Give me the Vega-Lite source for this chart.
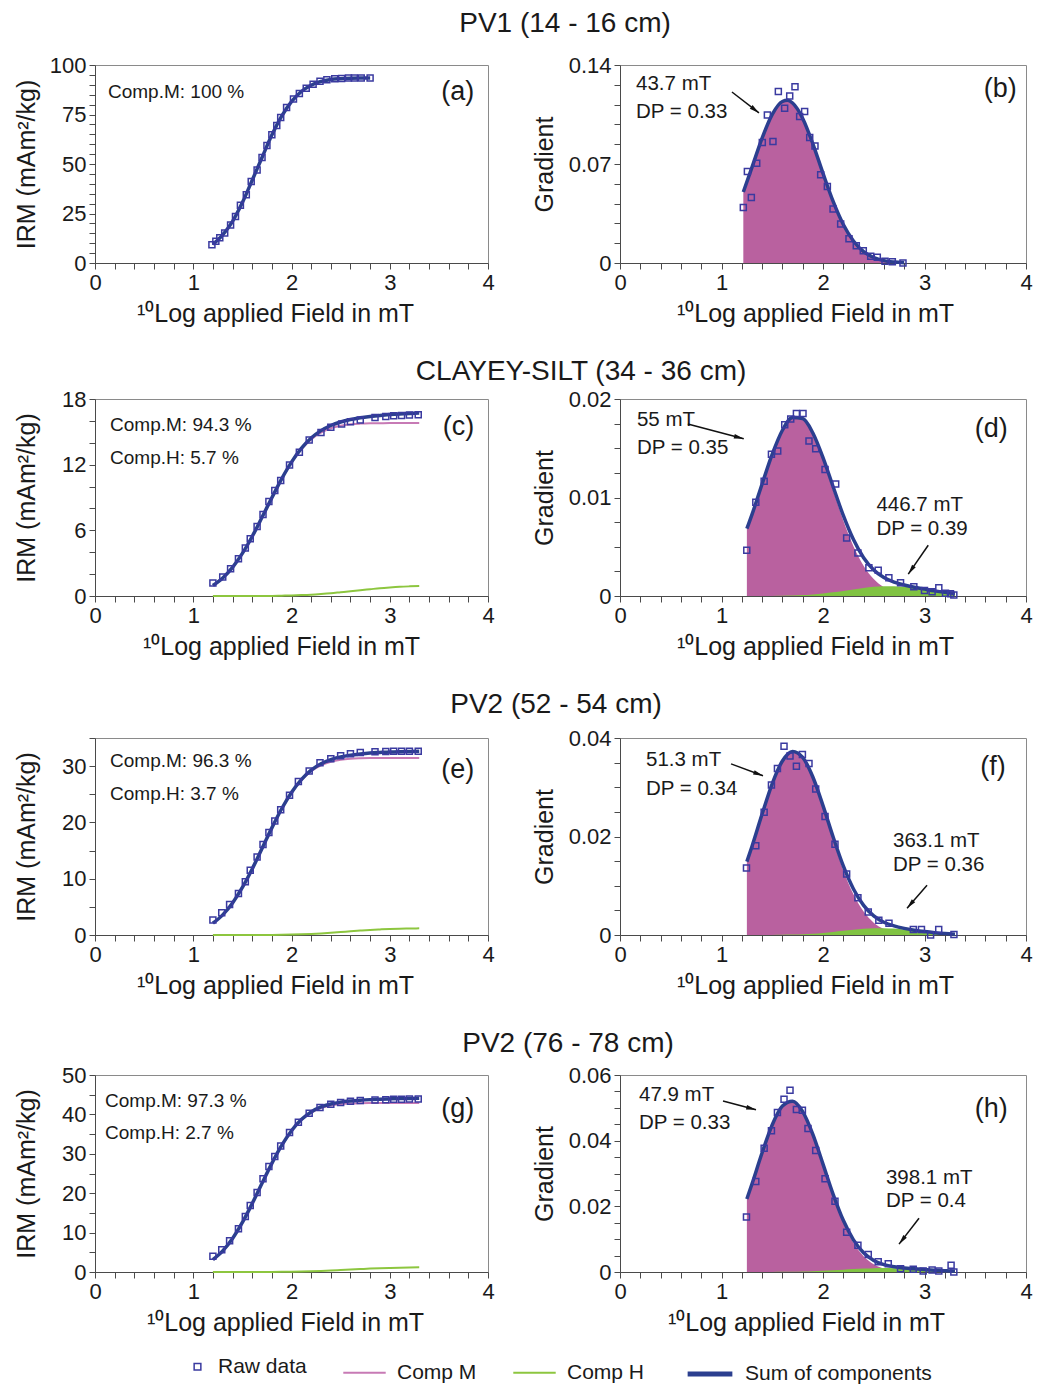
{
"$schema": "https://vega.github.io/schema/vega-lite/v6.json",
"padding": {"left": 13, "top": 9, "right": 4, "bottom": 4},
"config": {
 "font": "Liberation Sans",
 "view": {"stroke": "#8a8a8a", "strokeWidth": 1},
 "axis": {"labelFont": "Liberation Sans", "labelFontSize": 22, "labelColor": "#1a1a1a", "titleFont": "Liberation Sans", "titleFontSize": 25, "titleFontWeight": "normal", "titleColor": "#1a1a1a", "domainColor": "#4a4a4a", "tickColor": "#4a4a4a", "tickSize": 6, "grid": false, "labelPadding": 3, "labelOverlap": false},
 "axisX": {"labelFlush": false, "titlePadding": 8},
 "axisY": {"titleBaseline": "middle"},
 "text": {"font": "Liberation Sans", "color": "#1a1a1a"},
 "title": {"font": "Liberation Sans", "fontSize": 28, "fontWeight": "normal", "color": "#1a1a1a"}
},
"datasets": {
 "a_fit": [{"x":1.2,"S":9.4},{"x":1.3,"S":14.2},{"x":1.4,"S":21.0},{"x":1.5,"S":30.5},{"x":1.6,"S":41.8},{"x":1.7,"S":53.3},{"x":1.8,"S":64.6},{"x":1.9,"S":74.2},{"x":2.0,"S":81.5},{"x":2.1,"S":86.6},{"x":2.2,"S":89.8},{"x":2.3,"S":91.7},{"x":2.4,"S":92.7},{"x":2.5,"S":93.1},{"x":2.6,"S":93.3},{"x":2.7,"S":93.4},{"x":2.8,"S":93.4}],
 "a_raw": [{"x":1.19,"y":9.2},{"x":1.23,"y":11.0},{"x":1.27,"y":12.8},{"x":1.32,"y":15.2},{"x":1.38,"y":19.2},{"x":1.43,"y":23.5},{"x":1.48,"y":29.2},{"x":1.54,"y":34.5},{"x":1.59,"y":41.2},{"x":1.65,"y":47.0},{"x":1.70,"y":53.3},{"x":1.75,"y":59.4},{"x":1.80,"y":64.8},{"x":1.85,"y":69.5},{"x":1.89,"y":73.5},{"x":1.95,"y":78.5},{"x":2.02,"y":82.8},{"x":2.08,"y":85.6},{"x":2.15,"y":88.2},{"x":2.22,"y":90.3},{"x":2.29,"y":91.8},{"x":2.36,"y":92.5},{"x":2.44,"y":93.0},{"x":2.51,"y":93.2},{"x":2.58,"y":93.4},{"x":2.64,"y":93.4},{"x":2.71,"y":93.4},{"x":2.80,"y":93.4}],
 "b_fit": [{"x":1.215,"S":0.0502},{"x":1.3,"S":0.0676},{"x":1.4,"S":0.0883},{"x":1.5,"S":0.1051},{"x":1.6,"S":0.1142},{"x":1.65,"S":0.1150},{"x":1.7,"S":0.1131},{"x":1.8,"S":0.1022},{"x":1.9,"S":0.0843},{"x":2.0,"S":0.0634},{"x":2.1,"S":0.0435},{"x":2.2,"S":0.0272},{"x":2.3,"S":0.0156},{"x":2.4,"S":0.0081},{"x":2.5,"S":0.0039},{"x":2.6,"S":0.0017},{"x":2.7,"S":0.0007},{"x":2.8,"S":0.0002}],
 "b_raw": [{"x":1.215,"y":0.0393},{"x":1.255,"y":0.0647},{"x":1.294,"y":0.0464},{"x":1.347,"y":0.0706},{"x":1.402,"y":0.0852},{"x":1.452,"y":0.1047},{"x":1.507,"y":0.0859},{"x":1.560,"y":0.1212},{"x":1.622,"y":0.1094},{"x":1.672,"y":0.1181},{"x":1.724,"y":0.1247},{"x":1.770,"y":0.1035},{"x":1.819,"y":0.1071},{"x":1.869,"y":0.0887},{"x":1.921,"y":0.0828},{"x":1.977,"y":0.0624},{"x":2.043,"y":0.0541},{"x":2.099,"y":0.0381},{"x":2.174,"y":0.0275},{"x":2.256,"y":0.0172},{"x":2.328,"y":0.0122},{"x":2.397,"y":0.0087},{"x":2.470,"y":0.0047},{"x":2.535,"y":0.0040},{"x":2.611,"y":0.0012},{"x":2.683,"y":0.0009},{"x":2.788,"y":0.0}],
 "c_fit": [{"x":1.2,"M":0.97,"H":0,"S":0.97},{"x":1.3,"M":1.65,"H":0,"S":1.65},{"x":1.4,"M":2.62,"H":0,"S":2.62},{"x":1.5,"M":3.89,"H":0,"S":3.89},{"x":1.6,"M":5.44,"H":0,"S":5.44},{"x":1.7,"M":7.18,"H":0.01,"S":7.19},{"x":1.8,"M":8.97,"H":0.01,"S":8.98},{"x":1.9,"M":10.68,"H":0.03,"S":10.71},{"x":2.0,"M":12.18,"H":0.05,"S":12.23},{"x":2.1,"M":13.40,"H":0.08,"S":13.48},{"x":2.2,"M":14.31,"H":0.12,"S":14.43},{"x":2.3,"M":14.93,"H":0.18,"S":15.11},{"x":2.4,"M":15.33,"H":0.25,"S":15.58},{"x":2.5,"M":15.56,"H":0.34,"S":15.90},{"x":2.6,"M":15.69,"H":0.43,"S":16.12},{"x":2.7,"M":15.75,"H":0.53,"S":16.28},{"x":2.8,"M":15.78,"H":0.62,"S":16.40},{"x":2.9,"M":15.79,"H":0.71,"S":16.50},{"x":3.0,"M":15.80,"H":0.78,"S":16.58},{"x":3.1,"M":15.80,"H":0.84,"S":16.64},{"x":3.2,"M":15.80,"H":0.88,"S":16.68},{"x":3.3,"M":15.80,"H":0.91,"S":16.71}],
 "c_raw": [{"x":1.20,"y":1.19},{"x":1.30,"y":1.73},{"x":1.38,"y":2.49},{"x":1.46,"y":3.40},{"x":1.53,"y":4.38},{"x":1.58,"y":5.23},{"x":1.65,"y":6.35},{"x":1.71,"y":7.45},{"x":1.77,"y":8.63},{"x":1.83,"y":9.64},{"x":1.89,"y":10.55},{"x":1.98,"y":11.98},{"x":2.08,"y":13.13},{"x":2.18,"y":14.25},{"x":2.30,"y":14.95},{"x":2.40,"y":15.41},{"x":2.51,"y":15.71},{"x":2.60,"y":15.93},{"x":2.70,"y":16.08},{"x":2.85,"y":16.32},{"x":2.96,"y":16.41},{"x":3.04,"y":16.47},{"x":3.12,"y":16.50},{"x":3.20,"y":16.53},{"x":3.29,"y":16.57}],
 "d_fit": [{"x":1.25,"M":0.00683,"H":0,"S":0.00683},{"x":1.3,"M":0.00826,"H":0,"S":0.00826},{"x":1.4,"M":0.01136,"H":0.00001,"S":0.01137},{"x":1.5,"M":0.01439,"H":0.00001,"S":0.01440},{"x":1.6,"M":0.01680,"H":0.00003,"S":0.01683},{"x":1.7,"M":0.01808,"H":0.00005,"S":0.01813},{"x":1.8,"M":0.01793,"H":0.00009,"S":0.01802},{"x":1.9,"M":0.01639,"H":0.00016,"S":0.01655},{"x":2.0,"M":0.01381,"H":0.00025,"S":0.01406},{"x":2.1,"M":0.01072,"H":0.00037,"S":0.01109},{"x":2.2,"M":0.00767,"H":0.00051,"S":0.00818},{"x":2.3,"M":0.00506,"H":0.00067,"S":0.00573},{"x":2.4,"M":0.00308,"H":0.00081,"S":0.00389},{"x":2.5,"M":0.00172,"H":0.00093,"S":0.00265},{"x":2.6,"M":0.00089,"H":0.00099,"S":0.00188},{"x":2.7,"M":0.00042,"H":0.00099,"S":0.00141},{"x":2.8,"M":0.00019,"H":0.00093,"S":0.00112},{"x":2.9,"M":0.00007,"H":0.00081,"S":0.00088},{"x":3.0,"M":0.00003,"H":0.00067,"S":0.00070},{"x":3.1,"M":0.00001,"H":0.00051,"S":0.00052},{"x":3.2,"M":0,"H":0.00037,"S":0.00037},{"x":3.3,"M":0,"H":0.00025,"S":0.00025}],
 "d_raw": [{"x":1.249,"y":0.00464},{"x":1.338,"y":0.00951},{"x":1.420,"y":0.01166},{"x":1.492,"y":0.01439},{"x":1.554,"y":0.01472},{"x":1.623,"y":0.01738},{"x":1.682,"y":0.01798},{"x":1.738,"y":0.01852},{"x":1.803,"y":0.01852},{"x":1.862,"y":0.01573},{"x":1.928,"y":0.01496},{"x":2.020,"y":0.01284},{"x":2.125,"y":0.01136},{"x":2.233,"y":0.00588},{"x":2.344,"y":0.00437},{"x":2.452,"y":0.00286},{"x":2.544,"y":0.00262},{"x":2.649,"y":0.00185},{"x":2.764,"y":0.00134},{"x":2.895,"y":0.00094},{"x":3.0,"y":0.00057},{"x":3.075,"y":0.00044},{"x":3.141,"y":0.00084},{"x":3.207,"y":0.00027},{"x":3.256,"y":0.00024},{"x":3.289,"y":0.0001}],
 "e_fit": [{"x":1.2,"M":2.10,"H":0,"S":2.10},{"x":1.3,"M":3.58,"H":0,"S":3.58},{"x":1.4,"M":5.69,"H":0,"S":5.69},{"x":1.5,"M":8.44,"H":0,"S":8.44},{"x":1.6,"M":11.73,"H":0,"S":11.73},{"x":1.7,"M":15.36,"H":0.01,"S":15.37},{"x":1.8,"M":19.01,"H":0.02,"S":19.03},{"x":1.9,"M":22.39,"H":0.04,"S":22.43},{"x":2.0,"M":25.26,"H":0.07,"S":25.33},{"x":2.1,"M":27.50,"H":0.12,"S":27.62},{"x":2.2,"M":29.10,"H":0.19,"S":29.29},{"x":2.3,"M":30.15,"H":0.28,"S":30.43},{"x":2.4,"M":30.78,"H":0.39,"S":31.17},{"x":2.5,"M":31.13,"H":0.52,"S":31.65},{"x":2.6,"M":31.31,"H":0.65,"S":31.96},{"x":2.7,"M":31.39,"H":0.78,"S":32.17},{"x":2.8,"M":31.43,"H":0.90,"S":32.33},{"x":2.9,"M":31.44,"H":0.99,"S":32.43},{"x":3.0,"M":31.45,"H":1.07,"S":32.52},{"x":3.1,"M":31.45,"H":1.12,"S":32.57},{"x":3.2,"M":31.45,"H":1.15,"S":32.60},{"x":3.3,"M":31.45,"H":1.18,"S":32.63}],
 "e_raw": [{"x":1.20,"y":2.66},{"x":1.29,"y":3.96},{"x":1.37,"y":5.43},{"x":1.46,"y":7.38},{"x":1.53,"y":9.45},{"x":1.58,"y":11.52},{"x":1.65,"y":13.88},{"x":1.71,"y":16.07},{"x":1.77,"y":18.19},{"x":1.83,"y":20.26},{"x":1.89,"y":22.27},{"x":1.98,"y":24.81},{"x":2.07,"y":27.29},{"x":2.18,"y":29.12},{"x":2.29,"y":30.60},{"x":2.40,"y":31.31},{"x":2.50,"y":31.84},{"x":2.60,"y":32.19},{"x":2.70,"y":32.43},{"x":2.85,"y":32.55},{"x":2.96,"y":32.61},{"x":3.04,"y":32.66},{"x":3.12,"y":32.66},{"x":3.20,"y":32.66},{"x":3.29,"y":32.66}],
 "f_fit": [{"x":1.25,"M":0.01490,"H":0,"S":0.01490},{"x":1.3,"M":0.01798,"H":0,"S":0.01798},{"x":1.4,"M":0.02455,"H":0.00001,"S":0.02456},{"x":1.5,"M":0.03074,"H":0.00002,"S":0.03076},{"x":1.6,"M":0.03530,"H":0.00004,"S":0.03534},{"x":1.7,"M":0.03719,"H":0.00008,"S":0.03727},{"x":1.8,"M":0.03592,"H":0.00015,"S":0.03607},{"x":1.9,"M":0.03182,"H":0.00026,"S":0.03208},{"x":2.0,"M":0.02585,"H":0.00042,"S":0.02627},{"x":2.1,"M":0.01927,"H":0.00062,"S":0.01989},{"x":2.2,"M":0.01317,"H":0.00085,"S":0.01402},{"x":2.3,"M":0.00826,"H":0.00108,"S":0.00934},{"x":2.4,"M":0.00475,"H":0.00127,"S":0.00602},{"x":2.5,"M":0.00250,"H":0.00138,"S":0.00388},{"x":2.6,"M":0.00121,"H":0.00139,"S":0.00260},{"x":2.7,"M":0.00054,"H":0.00130,"S":0.00184},{"x":2.8,"M":0.00022,"H":0.00112,"S":0.00134},{"x":2.9,"M":0.00008,"H":0.00090,"S":0.00098},{"x":3.0,"M":0.00003,"H":0.00066,"S":0.00069},{"x":3.1,"M":0.00001,"H":0.00045,"S":0.00046},{"x":3.2,"M":0,"H":0.00029,"S":0.00029},{"x":3.3,"M":0,"H":0.00017,"S":0.00017}],
 "f_raw": [{"x":1.246,"y":0.0136},{"x":1.338,"y":0.01811},{"x":1.420,"y":0.02492},{"x":1.492,"y":0.03044},{"x":1.551,"y":0.0338},{"x":1.616,"y":0.03832},{"x":1.675,"y":0.03636},{"x":1.738,"y":0.03428},{"x":1.797,"y":0.03663},{"x":1.862,"y":0.03481},{"x":1.928,"y":0.02963},{"x":2.020,"y":0.02404},{"x":2.118,"y":0.01845},{"x":2.233,"y":0.01239},{"x":2.344,"y":0.00754},{"x":2.446,"y":0.00465},{"x":2.55,"y":0.0030},{"x":2.65,"y":0.0024},{"x":2.89,"y":0.0011},{"x":2.97,"y":0.0011},{"x":3.06,"y":0.0},{"x":3.14,"y":0.0011},{"x":3.29,"y":0.0001}],
 "g_fit": [{"x":1.2,"M":3.13,"H":0,"S":3.13},{"x":1.3,"M":5.35,"H":0,"S":5.35},{"x":1.4,"M":8.50,"H":0,"S":8.50},{"x":1.5,"M":12.57,"H":0,"S":12.57},{"x":1.6,"M":17.35,"H":0.01,"S":17.36},{"x":1.7,"M":22.49,"H":0.02,"S":22.51},{"x":1.8,"M":27.54,"H":0.03,"S":27.57},{"x":1.9,"M":32.07,"H":0.05,"S":32.12},{"x":2.0,"M":35.78,"H":0.08,"S":35.86},{"x":2.1,"M":38.55,"H":0.13,"S":38.68},{"x":2.2,"M":40.43,"H":0.20,"S":40.63},{"x":2.3,"M":41.61,"H":0.28,"S":41.89},{"x":2.4,"M":42.27,"H":0.38,"S":42.65},{"x":2.5,"M":42.62,"H":0.50,"S":43.12},{"x":2.6,"M":42.78,"H":0.62,"S":43.40},{"x":2.7,"M":42.86,"H":0.74,"S":43.60},{"x":2.8,"M":42.89,"H":0.86,"S":43.75},{"x":2.9,"M":42.90,"H":0.96,"S":43.86},{"x":3.0,"M":42.90,"H":1.04,"S":43.94},{"x":3.1,"M":42.90,"H":1.11,"S":44.01},{"x":3.2,"M":42.90,"H":1.16,"S":44.06},{"x":3.3,"M":42.90,"H":1.19,"S":44.09}],
 "g_raw": [{"x":1.20,"y":3.97},{"x":1.29,"y":5.66},{"x":1.37,"y":7.94},{"x":1.46,"y":10.98},{"x":1.53,"y":14.10},{"x":1.58,"y":16.89},{"x":1.65,"y":20.19},{"x":1.71,"y":23.65},{"x":1.77,"y":26.77},{"x":1.83,"y":29.31},{"x":1.89,"y":32.01},{"x":1.98,"y":35.39},{"x":2.07,"y":38.01},{"x":2.18,"y":40.29},{"x":2.29,"y":41.72},{"x":2.40,"y":42.57},{"x":2.50,"y":42.99},{"x":2.60,"y":43.33},{"x":2.70,"y":43.50},{"x":2.85,"y":43.67},{"x":2.96,"y":43.75},{"x":3.04,"y":43.83},{"x":3.12,"y":43.83},{"x":3.20,"y":43.92},{"x":3.29,"y":43.92}],
 "h_fit": [{"x":1.25,"M":0.02225,"H":0,"S":0.02225},{"x":1.3,"M":0.02678,"H":0.00001,"S":0.02679},{"x":1.4,"M":0.03630,"H":0.00001,"S":0.03631},{"x":1.5,"M":0.04482,"H":0.00003,"S":0.04485},{"x":1.6,"M":0.05050,"H":0.00005,"S":0.05055},{"x":1.7,"M":0.05190,"H":0.00009,"S":0.05199},{"x":1.8,"M":0.04867,"H":0.00016,"S":0.04883},{"x":1.9,"M":0.04164,"H":0.00026,"S":0.04190},{"x":2.0,"M":0.03248,"H":0.00039,"S":0.03287},{"x":2.1,"M":0.02313,"H":0.00054,"S":0.02367},{"x":2.2,"M":0.01503,"H":0.00072,"S":0.01575},{"x":2.3,"M":0.00890,"H":0.00090,"S":0.00980},{"x":2.4,"M":0.00481,"H":0.00105,"S":0.00586},{"x":2.5,"M":0.00237,"H":0.00115,"S":0.00352},{"x":2.6,"M":0.00107,"H":0.00119,"S":0.00226},{"x":2.7,"M":0.00044,"H":0.00115,"S":0.00159},{"x":2.8,"M":0.00016,"H":0.00105,"S":0.00121},{"x":2.9,"M":0.00006,"H":0.00090,"S":0.00096},{"x":3.0,"M":0.00002,"H":0.00072,"S":0.00074},{"x":3.1,"M":0,"H":0.00054,"S":0.00054},{"x":3.2,"M":0,"H":0.00039,"S":0.00039},{"x":3.3,"M":0,"H":0.00026,"S":0.00026}],
 "h_raw": [{"x":1.246,"y":0.01677},{"x":1.338,"y":0.02758},{"x":1.420,"y":0.03768},{"x":1.492,"y":0.04303},{"x":1.551,"y":0.04859},{"x":1.616,"y":0.05263},{"x":1.675,"y":0.05535},{"x":1.738,"y":0.04949},{"x":1.797,"y":0.04929},{"x":1.852,"y":0.04374},{"x":1.928,"y":0.03697},{"x":2.020,"y":0.02838},{"x":2.118,"y":0.02152},{"x":2.233,"y":0.01212},{"x":2.344,"y":0.00818},{"x":2.446,"y":0.00535},{"x":2.544,"y":0.00313},{"x":2.643,"y":0.00253},{"x":2.764,"y":0.00101},{"x":2.889,"y":0.00081},{"x":2.987,"y":0.0003},{"x":3.075,"y":0.00061},{"x":3.141,"y":0.0003},{"x":3.262,"y":0.00202},{"x":3.289,"y":0.0}]
},
"vconcat": [
 {"hconcat": [
  {"width": 393, "height": 198,
   "encoding": {
     "x": {"field": "x", "type": "quantitative", "scale": {"domain": [0, 4], "nice": false}, "axis": {"values": [0,0.2,0.4,0.6,0.8,1,1.2,1.4,1.6,1.8,2,2.2,2.4,2.6,2.8,3,3.2,3.4,3.6,3.8,4], "labelExpr": "datum.value % 1 === 0 ? format(datum.value, 'd') : ''", "title": "¹⁰Log applied Field in mT", "titleX": 180}},
     "y": {"field": "y", "type": "quantitative", "scale": {"domain": [0, 100], "nice": false}, "axis": {"values": [0,5,10,15,20,25,30,35,40,45,50,55,60,65,70,75,80,85,90,95,100], "labelExpr": "indexof([0,25,50,75,100], datum.value) >= 0 ? format(datum.value, '~g') : ''", "title": "IRM (mAm²/kg)", "titleX": -69}}},
   "layer": [
   {"data": {"name": "a_fit"}, "transform": [{"fold": ["S"], "as": ["k", "y"]}], "mark": {"type": "line", "color": "#c77ab5", "strokeWidth": 2, "interpolate": "monotone"}},
   {"data": {"name": "a_fit"}, "transform": [{"fold": ["S"], "as": ["k", "y"]}], "mark": {"type": "line", "color": "#2b3f8f", "strokeWidth": 3.5, "interpolate": "monotone"}},
   {"data": {"name": "a_raw"}, "mark": {"type": "point", "shape": "square", "size": 36, "filled": false, "color": "#3a3aa0", "strokeWidth": 1.5, "opacity": 1}},
   {"data": {"values": [{"t": "Comp.M: 100 %", "x": 0.132, "y": 86.4}]}, "mark": {"type": "text", "align": "left", "baseline": "middle", "fontSize": 19}, "encoding": {"text": {"field": "t"}}},
   {"data": {"values": [{"t": "(a)", "x": 3.86, "y": 86.4}]}, "mark": {"type": "text", "align": "right", "baseline": "middle", "fontSize": 27}, "encoding": {"text": {"field": "t"}}}
  ]},
  {"width": 406, "height": 198,
   "encoding": {
     "x": {"field": "x", "type": "quantitative", "scale": {"domain": [0, 4], "nice": false}, "axis": {"values": [0,0.2,0.4,0.6,0.8,1,1.2,1.4,1.6,1.8,2,2.2,2.4,2.6,2.8,3,3.2,3.4,3.6,3.8,4], "labelExpr": "datum.value % 1 === 0 ? format(datum.value, 'd') : ''", "title": "¹⁰Log applied Field in mT", "titleX": 195}},
     "y": {"field": "y", "type": "quantitative", "scale": {"domain": [0, 0.14], "nice": false}, "axis": {"values": [0,0.014,0.028,0.042,0.056,0.07,0.084,0.098,0.112,0.126,0.14], "labelExpr": "indexof([0,0.07,0.14], datum.value) >= 0 ? format(datum.value, '~g') : ''", "title": "Gradient", "titleX": -76}}},
   "layer": [
   {"data": {"name": "b_fit"}, "transform": [{"fold": ["S"], "as": ["k", "y"]}], "mark": {"type": "area", "color": "#b9619f", "interpolate": "monotone"}},
   {"data": {"name": "b_fit"}, "transform": [{"fold": ["S"], "as": ["k", "y"]}], "mark": {"type": "line", "color": "#2b3f8f", "strokeWidth": 3.5, "interpolate": "monotone"}},
   {"data": {"name": "b_raw"}, "mark": {"type": "point", "shape": "square", "size": 36, "filled": false, "color": "#3a3aa0", "strokeWidth": 1.5, "opacity": 1}},
   {"data": {"values": [{"t": "43.7 mT", "x": 0.158, "y": 0.1266}, {"t": "DP = 0.33", "x": 0.158, "y": 0.1068}]}, "mark": {"type": "text", "align": "left", "baseline": "middle", "fontSize": 20.5}, "encoding": {"text": {"field": "t"}}},
   {"data": {"values": [{"t": "(b)", "x": 3.91, "y": 0.123}]}, "mark": {"type": "text", "align": "right", "baseline": "middle", "fontSize": 27}, "encoding": {"text": {"field": "t"}}},
   {"data": {"values": [{"x": 1.103, "y": 0.1209, "x2": 1.369, "y2": 0.1061}]}, "mark": {"type": "rule", "color": "#111111", "strokeWidth": 1.5}, "encoding": {"x2": {"field": "x2"}, "y2": {"field": "y2"}}},
   {"data": {"values": [{"x": 1.369, "y": 0.1061}]}, "mark": {"type": "point", "shape": "M0,0L0.5,2.2L-0.5,2.2Z", "filled": true, "color": "#111111", "size": 80, "angle": 128, "opacity": 1}}
  ]}
 ], "spacing": 132, "bounds": "flush", "title": {"text": "PV1 (14 - 16 cm)", "anchor": "middle", "dx": 42, "offset": 16}},
 {"hconcat": [
  {"width": 393, "height": 197,
   "encoding": {
     "x": {"field": "x", "type": "quantitative", "scale": {"domain": [0, 4], "nice": false}, "axis": {"values": [0,0.2,0.4,0.6,0.8,1,1.2,1.4,1.6,1.8,2,2.2,2.4,2.6,2.8,3,3.2,3.4,3.6,3.8,4], "labelExpr": "datum.value % 1 === 0 ? format(datum.value, 'd') : ''", "title": "¹⁰Log applied Field in mT", "titleX": 186}},
     "y": {"field": "y", "type": "quantitative", "scale": {"domain": [0, 18], "nice": false}, "axis": {"values": [0,2,4,6,8,10,12,14,16,18], "labelExpr": "indexof([0,6,12,18], datum.value) >= 0 ? format(datum.value, '~g') : ''", "title": "IRM (mAm²/kg)", "titleX": -69}}},
   "layer": [
   {"data": {"name": "c_fit"}, "transform": [{"fold": ["H"], "as": ["k", "y"]}], "mark": {"type": "line", "color": "#8dc63f", "strokeWidth": 2, "interpolate": "monotone"}},
   {"data": {"name": "c_fit"}, "transform": [{"fold": ["M"], "as": ["k", "y"]}], "mark": {"type": "line", "color": "#c77ab5", "strokeWidth": 2, "interpolate": "monotone"}},
   {"data": {"name": "c_fit"}, "transform": [{"fold": ["S"], "as": ["k", "y"]}], "mark": {"type": "line", "color": "#2b3f8f", "strokeWidth": 3.5, "interpolate": "monotone"}},
   {"data": {"name": "c_raw"}, "mark": {"type": "point", "shape": "square", "size": 36, "filled": false, "color": "#3a3aa0", "strokeWidth": 1.5, "opacity": 1}},
   {"data": {"values": [{"t": "Comp.M: 94.3 %", "x": 0.153, "y": 15.6}, {"t": "Comp.H: 5.7 %", "x": 0.153, "y": 12.6}]}, "mark": {"type": "text", "align": "left", "baseline": "middle", "fontSize": 19}, "encoding": {"text": {"field": "t"}}},
   {"data": {"values": [{"t": "(c)", "x": 3.86, "y": 15.4}]}, "mark": {"type": "text", "align": "right", "baseline": "middle", "fontSize": 27}, "encoding": {"text": {"field": "t"}}}
  ]},
  {"width": 406, "height": 197,
   "encoding": {
     "x": {"field": "x", "type": "quantitative", "scale": {"domain": [0, 4], "nice": false}, "axis": {"values": [0,0.2,0.4,0.6,0.8,1,1.2,1.4,1.6,1.8,2,2.2,2.4,2.6,2.8,3,3.2,3.4,3.6,3.8,4], "labelExpr": "datum.value % 1 === 0 ? format(datum.value, 'd') : ''", "title": "¹⁰Log applied Field in mT", "titleX": 195}},
     "y": {"field": "y", "type": "quantitative", "scale": {"domain": [0, 0.02], "nice": false}, "axis": {"values": [0,0.0025,0.005,0.0075,0.01,0.0125,0.015,0.0175,0.02], "labelExpr": "indexof([0,0.01,0.02], datum.value) >= 0 ? format(datum.value, '~g') : ''", "title": "Gradient", "titleX": -76}}},
   "layer": [
   {"data": {"name": "d_fit"}, "transform": [{"fold": ["M"], "as": ["k", "y"]}], "mark": {"type": "area", "color": "#b9619f", "interpolate": "monotone"}},
   {"data": {"name": "d_fit"}, "transform": [{"fold": ["H"], "as": ["k", "y"]}], "mark": {"type": "area", "color": "#80c342", "interpolate": "monotone"}},
   {"data": {"name": "d_fit"}, "transform": [{"fold": ["S"], "as": ["k", "y"]}], "mark": {"type": "line", "color": "#2b3f8f", "strokeWidth": 3.5, "interpolate": "monotone"}},
   {"data": {"name": "d_raw"}, "mark": {"type": "point", "shape": "square", "size": 36, "filled": false, "color": "#3a3aa0", "strokeWidth": 1.5, "opacity": 1}},
   {"data": {"values": [{"t": "55 mT", "x": 0.167, "y": 0.01788}, {"t": "DP = 0.35", "x": 0.167, "y": 0.01505}, {"t": "446.7 mT", "x": 2.526, "y": 0.00919}, {"t": "DP = 0.39", "x": 2.526, "y": 0.00677}]}, "mark": {"type": "text", "align": "left", "baseline": "middle", "fontSize": 20.5}, "encoding": {"text": {"field": "t"}}},
   {"data": {"values": [{"t": "(d)", "x": 3.82, "y": 0.01697}]}, "mark": {"type": "text", "align": "right", "baseline": "middle", "fontSize": 27}, "encoding": {"text": {"field": "t"}}},
   {"data": {"values": [{"x": 0.668, "y": 0.01747, "x2": 1.219, "y2": 0.01596}, {"x": 3.037, "y": 0.00515, "x2": 2.84, "y2": 0.00222}]}, "mark": {"type": "rule", "color": "#111111", "strokeWidth": 1.5}, "encoding": {"x2": {"field": "x2"}, "y2": {"field": "y2"}}},
   {"data": {"values": [{"x": 1.219, "y": 0.01596}]}, "mark": {"type": "point", "shape": "M0,0L0.5,2.2L-0.5,2.2Z", "filled": true, "color": "#111111", "size": 80, "angle": 105, "opacity": 1}},
   {"data": {"values": [{"x": 2.84, "y": 0.00222}]}, "mark": {"type": "point", "shape": "M0,0L0.5,2.2L-0.5,2.2Z", "filled": true, "color": "#111111", "size": 80, "angle": 215, "opacity": 1}}
  ]}
 ], "spacing": 132, "bounds": "flush", "title": {"text": "CLAYEY-SILT  (34 - 36 cm)", "anchor": "middle", "dx": 58, "offset": 2}},
 {"hconcat": [
  {"width": 393, "height": 197,
   "encoding": {
     "x": {"field": "x", "type": "quantitative", "scale": {"domain": [0, 4], "nice": false}, "axis": {"values": [0,0.2,0.4,0.6,0.8,1,1.2,1.4,1.6,1.8,2,2.2,2.4,2.6,2.8,3,3.2,3.4,3.6,3.8,4], "labelExpr": "datum.value % 1 === 0 ? format(datum.value, 'd') : ''", "title": "¹⁰Log applied Field in mT", "titleX": 180}},
     "y": {"field": "y", "type": "quantitative", "scale": {"domain": [0, 35], "nice": false}, "axis": {"values": [0,5,10,15,20,25,30,35], "labelExpr": "indexof([0,10,20,30], datum.value) >= 0 ? format(datum.value, '~g') : ''", "title": "IRM (mAm²/kg)", "titleX": -69}}},
   "layer": [
   {"data": {"name": "e_fit"}, "transform": [{"fold": ["H"], "as": ["k", "y"]}], "mark": {"type": "line", "color": "#8dc63f", "strokeWidth": 2, "interpolate": "monotone"}},
   {"data": {"name": "e_fit"}, "transform": [{"fold": ["M"], "as": ["k", "y"]}], "mark": {"type": "line", "color": "#c77ab5", "strokeWidth": 2, "interpolate": "monotone"}},
   {"data": {"name": "e_fit"}, "transform": [{"fold": ["S"], "as": ["k", "y"]}], "mark": {"type": "line", "color": "#2b3f8f", "strokeWidth": 3.5, "interpolate": "monotone"}},
   {"data": {"name": "e_raw"}, "mark": {"type": "point", "shape": "square", "size": 36, "filled": false, "color": "#3a3aa0", "strokeWidth": 1.5, "opacity": 1}},
   {"data": {"values": [{"t": "Comp.M: 96.3 %", "x": 0.153, "y": 30.85}, {"t": "Comp.H: 3.7 %", "x": 0.153, "y": 25.0}]}, "mark": {"type": "text", "align": "left", "baseline": "middle", "fontSize": 19}, "encoding": {"text": {"field": "t"}}},
   {"data": {"values": [{"t": "(e)", "x": 3.86, "y": 29.3}]}, "mark": {"type": "text", "align": "right", "baseline": "middle", "fontSize": 27}, "encoding": {"text": {"field": "t"}}}
  ]},
  {"width": 406, "height": 197,
   "encoding": {
     "x": {"field": "x", "type": "quantitative", "scale": {"domain": [0, 4], "nice": false}, "axis": {"values": [0,0.2,0.4,0.6,0.8,1,1.2,1.4,1.6,1.8,2,2.2,2.4,2.6,2.8,3,3.2,3.4,3.6,3.8,4], "labelExpr": "datum.value % 1 === 0 ? format(datum.value, 'd') : ''", "title": "¹⁰Log applied Field in mT", "titleX": 195}},
     "y": {"field": "y", "type": "quantitative", "scale": {"domain": [0, 0.04], "nice": false}, "axis": {"values": [0,0.005,0.01,0.015,0.02,0.025,0.03,0.035,0.04], "labelExpr": "indexof([0,0.02,0.04], datum.value) >= 0 ? format(datum.value, '~g') : ''", "title": "Gradient", "titleX": -76}}},
   "layer": [
   {"data": {"name": "f_fit"}, "transform": [{"fold": ["M"], "as": ["k", "y"]}], "mark": {"type": "area", "color": "#b9619f", "interpolate": "monotone"}},
   {"data": {"name": "f_fit"}, "transform": [{"fold": ["H"], "as": ["k", "y"]}], "mark": {"type": "area", "color": "#80c342", "interpolate": "monotone"}},
   {"data": {"name": "f_fit"}, "transform": [{"fold": ["S"], "as": ["k", "y"]}], "mark": {"type": "line", "color": "#2b3f8f", "strokeWidth": 3.5, "interpolate": "monotone"}},
   {"data": {"name": "f_raw"}, "mark": {"type": "point", "shape": "square", "size": 36, "filled": false, "color": "#3a3aa0", "strokeWidth": 1.5, "opacity": 1}},
   {"data": {"values": [{"t": "51.3 mT", "x": 0.256, "y": 0.03556}, {"t": "DP = 0.34", "x": 0.256, "y": 0.0297}, {"t": "363.1 mT", "x": 2.69, "y": 0.019}, {"t": "DP = 0.36", "x": 2.69, "y": 0.01414}]}, "mark": {"type": "text", "align": "left", "baseline": "middle", "fontSize": 20.5}, "encoding": {"text": {"field": "t"}}},
   {"data": {"values": [{"t": "(f)", "x": 3.8, "y": 0.03414}]}, "mark": {"type": "text", "align": "right", "baseline": "middle", "fontSize": 27}, "encoding": {"text": {"field": "t"}}},
   {"data": {"values": [{"x": 1.094, "y": 0.03475, "x2": 1.409, "y2": 0.03232}, {"x": 3.025, "y": 0.0101, "x2": 2.828, "y2": 0.00545}]}, "mark": {"type": "rule", "color": "#111111", "strokeWidth": 1.5}, "encoding": {"x2": {"field": "x2"}, "y2": {"field": "y2"}}},
   {"data": {"values": [{"x": 1.409, "y": 0.03232}]}, "mark": {"type": "point", "shape": "M0,0L0.5,2.2L-0.5,2.2Z", "filled": true, "color": "#111111", "size": 80, "angle": 111, "opacity": 1}},
   {"data": {"values": [{"x": 2.828, "y": 0.00545}]}, "mark": {"type": "point", "shape": "M0,0L0.5,2.2L-0.5,2.2Z", "filled": true, "color": "#111111", "size": 80, "angle": 221, "opacity": 1}}
  ]}
 ], "spacing": 132, "bounds": "flush", "title": {"text": "PV2 (52 - 54 cm)", "anchor": "middle", "dx": 33, "offset": 8}},
 {"hconcat": [
  {"width": 393, "height": 197,
   "encoding": {
     "x": {"field": "x", "type": "quantitative", "scale": {"domain": [0, 4], "nice": false}, "axis": {"values": [0,0.2,0.4,0.6,0.8,1,1.2,1.4,1.6,1.8,2,2.2,2.4,2.6,2.8,3,3.2,3.4,3.6,3.8,4], "labelExpr": "datum.value % 1 === 0 ? format(datum.value, 'd') : ''", "title": "¹⁰Log applied Field in mT", "titleX": 190}},
     "y": {"field": "y", "type": "quantitative", "scale": {"domain": [0, 50], "nice": false}, "axis": {"values": [0,5,10,15,20,25,30,35,40,45,50], "labelExpr": "indexof([0,10,20,30,40,50], datum.value) >= 0 ? format(datum.value, '~g') : ''", "title": "IRM (mAm²/kg)", "titleX": -69}}},
   "layer": [
   {"data": {"name": "g_fit"}, "transform": [{"fold": ["H"], "as": ["k", "y"]}], "mark": {"type": "line", "color": "#8dc63f", "strokeWidth": 2, "interpolate": "monotone"}},
   {"data": {"name": "g_fit"}, "transform": [{"fold": ["M"], "as": ["k", "y"]}], "mark": {"type": "line", "color": "#c77ab5", "strokeWidth": 2, "interpolate": "monotone"}},
   {"data": {"name": "g_fit"}, "transform": [{"fold": ["S"], "as": ["k", "y"]}], "mark": {"type": "line", "color": "#2b3f8f", "strokeWidth": 3.5, "interpolate": "monotone"}},
   {"data": {"name": "g_raw"}, "mark": {"type": "point", "shape": "square", "size": 36, "filled": false, "color": "#3a3aa0", "strokeWidth": 1.5, "opacity": 1}},
   {"data": {"values": [{"t": "Comp.M: 97.3 %", "x": 0.102, "y": 43.4}, {"t": "Comp.H: 2.7 %", "x": 0.102, "y": 35.3}]}, "mark": {"type": "text", "align": "left", "baseline": "middle", "fontSize": 19}, "encoding": {"text": {"field": "t"}}},
   {"data": {"values": [{"t": "(g)", "x": 3.86, "y": 41.4}]}, "mark": {"type": "text", "align": "right", "baseline": "middle", "fontSize": 27}, "encoding": {"text": {"field": "t"}}},
   {"data": {"values": [{"s": "Raw data", "x": 2, "y": 25}, {"s": "Comp M", "x": 2, "y": 25}, {"s": "Comp H", "x": 2, "y": 25}, {"s": "Sum of components", "x": 2, "y": 25}]}, "mark": {"type": "point", "opacity": 0, "filled": false}, "encoding": {
     "color": {"field": "s", "type": "nominal", "scale": {"domain": ["Raw data", "Comp M", "Comp H", "Sum of components"], "range": ["#3a3aa0", "#c77ab5", "#8dc63f", "#2b3f8f"]},
       "legend": {"orient": "none", "legendX": 92, "legendY": 1284, "direction": "horizontal", "title": null, "labelFont": "Liberation Sans", "labelFontSize": 21, "labelColor": "#1a1a1a", "labelLimit": 400, "symbolOpacity": 1, "columnPadding": 32, "labelOffset": 10}},
     "shape": {"field": "s", "type": "nominal", "scale": {"domain": ["Raw data", "Comp M", "Comp H", "Sum of components"], "range": ["square", "stroke", "stroke", "stroke"]},
       "legend": {"orient": "none", "legendX": 92, "legendY": 1284, "direction": "horizontal", "title": null, "labelFont": "Liberation Sans", "labelFontSize": 21, "labelColor": "#1a1a1a", "labelLimit": 400, "symbolOpacity": 1, "columnPadding": 32, "labelOffset": 10}},
     "size": {"field": "s", "type": "nominal", "scale": {"type": "ordinal", "domain": ["Raw data", "Comp M", "Comp H", "Sum of components"], "range": [45, 1800, 1800, 2000]},
       "legend": {"orient": "none", "legendX": 92, "legendY": 1284, "direction": "horizontal", "title": null, "labelFont": "Liberation Sans", "labelFontSize": 21, "labelColor": "#1a1a1a", "labelLimit": 400, "symbolOpacity": 1, "columnPadding": 32, "labelOffset": 10}},
     "strokeWidth": {"field": "s", "type": "nominal", "scale": {"type": "ordinal", "domain": ["Raw data", "Comp M", "Comp H", "Sum of components"], "range": [1.5, 2, 2, 5]},
       "legend": {"orient": "none", "legendX": 92, "legendY": 1284, "direction": "horizontal", "title": null, "labelFont": "Liberation Sans", "labelFontSize": 21, "labelColor": "#1a1a1a", "labelLimit": 400, "symbolOpacity": 1, "columnPadding": 32, "labelOffset": 10}}}}
  ]},
  {"width": 406, "height": 197,
   "encoding": {
     "x": {"field": "x", "type": "quantitative", "scale": {"domain": [0, 4], "nice": false}, "axis": {"values": [0,0.2,0.4,0.6,0.8,1,1.2,1.4,1.6,1.8,2,2.2,2.4,2.6,2.8,3,3.2,3.4,3.6,3.8,4], "labelExpr": "datum.value % 1 === 0 ? format(datum.value, 'd') : ''", "title": "¹⁰Log applied Field in mT", "titleX": 186}},
     "y": {"field": "y", "type": "quantitative", "scale": {"domain": [0, 0.06], "nice": false}, "axis": {"values": [0,0.005,0.01,0.015,0.02,0.025,0.03,0.035,0.04,0.045,0.05,0.055,0.06], "labelExpr": "indexof([0,0.02,0.04,0.06], datum.value) >= 0 ? format(datum.value, '~g') : ''", "title": "Gradient", "titleX": -76}}},
   "layer": [
   {"data": {"name": "h_fit"}, "transform": [{"fold": ["M"], "as": ["k", "y"]}], "mark": {"type": "area", "color": "#b9619f", "interpolate": "monotone"}},
   {"data": {"name": "h_fit"}, "transform": [{"fold": ["H"], "as": ["k", "y"]}], "mark": {"type": "area", "color": "#80c342", "interpolate": "monotone"}},
   {"data": {"name": "h_fit"}, "transform": [{"fold": ["S"], "as": ["k", "y"]}], "mark": {"type": "line", "color": "#2b3f8f", "strokeWidth": 3.5, "interpolate": "monotone"}},
   {"data": {"name": "h_raw"}, "mark": {"type": "point", "shape": "square", "size": 36, "filled": false, "color": "#3a3aa0", "strokeWidth": 1.5, "opacity": 1}},
   {"data": {"values": [{"t": "47.9 mT", "x": 0.187, "y": 0.0539}, {"t": "DP = 0.33", "x": 0.187, "y": 0.04545}, {"t": "398.1 mT", "x": 2.62, "y": 0.0285}, {"t": "DP = 0.4", "x": 2.62, "y": 0.0215}]}, "mark": {"type": "text", "align": "left", "baseline": "middle", "fontSize": 20.5}, "encoding": {"text": {"field": "t"}}},
   {"data": {"values": [{"t": "(h)", "x": 3.82, "y": 0.0497}]}, "mark": {"type": "text", "align": "right", "baseline": "middle", "fontSize": 27}, "encoding": {"text": {"field": "t"}}},
   {"data": {"values": [{"x": 1.015, "y": 0.0521, "x2": 1.34, "y2": 0.0494}, {"x": 2.946, "y": 0.01636, "x2": 2.749, "y2": 0.00848}]}, "mark": {"type": "rule", "color": "#111111", "strokeWidth": 1.5}, "encoding": {"x2": {"field": "x2"}, "y2": {"field": "y2"}}},
   {"data": {"values": [{"x": 1.34, "y": 0.0494}]}, "mark": {"type": "point", "shape": "M0,0L0.5,2.2L-0.5,2.2Z", "filled": true, "color": "#111111", "size": 80, "angle": 105, "opacity": 1}},
   {"data": {"values": [{"x": 2.749, "y": 0.00848}]}, "mark": {"type": "point", "shape": "M0,0L0.5,2.2L-0.5,2.2Z", "filled": true, "color": "#111111", "size": 80, "angle": 218, "opacity": 1}}
  ]}
 ], "spacing": 132, "bounds": "flush", "title": {"text": "PV2 (76 - 78 cm)", "anchor": "middle", "dx": 45, "offset": 6}}
],
"spacing": 30
}
